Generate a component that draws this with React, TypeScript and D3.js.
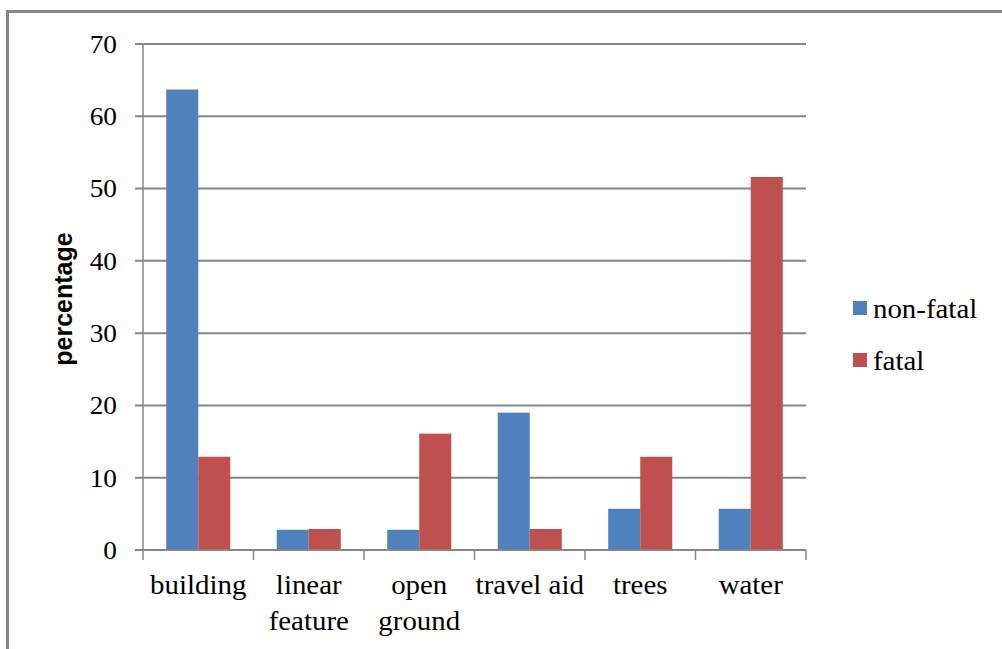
import React, { useEffect, useRef } from "react";
import * as d3 from "d3";

const categories: string[][] = [
  ["building"],
  ["linear", "feature"],
  ["open", "ground"],
  ["travel aid"],
  ["trees"],
  ["water"],
];
const nonFatal: number[] = [63.7, 2.8, 2.8, 19.0, 5.7, 5.7];
const fatal: number[] = [12.9, 2.9, 16.1, 2.9, 12.9, 51.6];
const seriesNames: string[] = ["non-fatal", "fatal"];
const seriesColors: string[] = ["#4F81BD", "#C0504D"];
const yTicks: number[] = [0, 10, 20, 30, 40, 50, 60, 70];

const W = 1002;
const H = 649;
const plot = { left: 143, right: 806, top: 44, bottom: 550 };
const serif = "'Liberation Serif', 'Times New Roman', serif";

export default function App() {
  const ref = useRef<SVGSVGElement>(null);
  useEffect(() => {
    const svg = d3.select(ref.current);
    svg.selectAll("*").remove();

    const grey = "#868686";
    // outer border (left and top visible)
    svg.append("line").attr("x1", 7.5).attr("x2", 7.5).attr("y1", 11.5).attr("y2", H)
      .attr("stroke", grey).attr("stroke-width", 3);
    svg.append("line").attr("x1", 6).attr("x2", W).attr("y1", 11.5).attr("y2", 11.5)
      .attr("stroke", grey).attr("stroke-width", 3);

    const idx = categories.map((_, i) => String(i));
    const x0 = d3.scaleBand<string>().domain(idx).range([plot.left, plot.right]).paddingInner(0).paddingOuter(0);
    const groupW = x0.bandwidth();
    const barW = groupW / 3.45;
    const y = d3.scaleLinear().domain([0, 70]).range([plot.bottom, plot.top]);

    // gridlines
    const g = svg.append("g");
    yTicks.forEach((t) => {
      g.append("line")
        .attr("x1", plot.left - 8).attr("x2", plot.right)
        .attr("y1", y(t)).attr("y2", y(t))
        .attr("stroke", grey).attr("stroke-width", 2);
      g.append("text")
        .attr("x", 117).attr("y", y(t))
        .attr("dy", "0.34em")
        .attr("text-anchor", "end")
        .attr("font-family", serif)
        .attr("font-size", 26)
        .attr("fill", "#000")
        .attr("transform", `translate(117, 0) scale(1.05, 1) translate(-117, 0)`)
        .text(String(t));
    });

    // y axis line
    g.append("line").attr("x1", plot.left).attr("x2", plot.left)
      .attr("y1", plot.top).attr("y2", plot.bottom)
      .attr("stroke", grey).attr("stroke-width", 1.5);

    // bars
    const series = [nonFatal, fatal];
    series.forEach((vals, s) => {
      svg.append("g").selectAll("rect").data(vals).join("rect")
        .attr("x", (_, i) => (x0(String(i)) as number) + groupW / 2 - barW + s * barW)
        .attr("y", (d) => y(d))
        .attr("width", barW)
        .attr("height", (d) => y(0) - y(d))
        .attr("fill", seriesColors[s]);
    });

    // x axis
    svg.append("line").attr("x1", plot.left).attr("x2", plot.right)
      .attr("y1", plot.bottom).attr("y2", plot.bottom)
      .attr("stroke", grey).attr("stroke-width", 2);
    for (let i = 0; i <= categories.length; i++) {
      const xx = i < categories.length ? (x0(String(i)) as number) : plot.right;
      svg.append("line").attr("x1", xx).attr("x2", xx)
        .attr("y1", plot.bottom).attr("y2", plot.bottom + 10)
        .attr("stroke", grey).attr("stroke-width", 1.5);
    }
    categories.forEach((lines, i) => {
      const cx = (x0(String(i)) as number) + groupW / 2;
      lines.forEach((ln, k) => {
        svg.append("text")
          .attr("x", cx).attr("y", 594 + k * 36)
          .attr("text-anchor", "middle")
          .attr("font-family", serif)
          .attr("font-size", 27)
          .attr("fill", "#000")
          .attr("transform", `translate(${cx}, 0) scale(1.07, 1) translate(${-cx}, 0)`)
          .text(ln);
      });
    });

    // y axis title
    svg.append("text")
      .attr("transform", `translate(72, ${(plot.top + plot.bottom) / 2 + 2}) rotate(-90)`)
      .attr("text-anchor", "middle")
      .attr("font-family", "'Liberation Sans', Arial, sans-serif")
      .attr("font-weight", "bold")
      .attr("font-size", 25)
      .attr("fill", "#000")
      .text("percentage");

    // legend
    seriesNames.forEach((name, s) => {
      const ly = 301 + s * 52;
      svg.append("rect").attr("x", 853).attr("y", ly).attr("width", 14).attr("height", 14)
        .attr("fill", seriesColors[s]);
      svg.append("text")
        .attr("x", 873).attr("y", ly + 17)
        .attr("font-family", serif)
        .attr("font-size", 27)
        .attr("fill", "#000")
        .attr("transform", `translate(873, 0) scale(1.07, 1) translate(-873, 0)`)
        .text(name);
    });
  }, []);

  return (
    <svg
      ref={ref}
      width={W}
      height={H}
      style={{ position: "absolute", left: 0, top: 0, background: "#fff", display: "block" }}
    />
  );
}
